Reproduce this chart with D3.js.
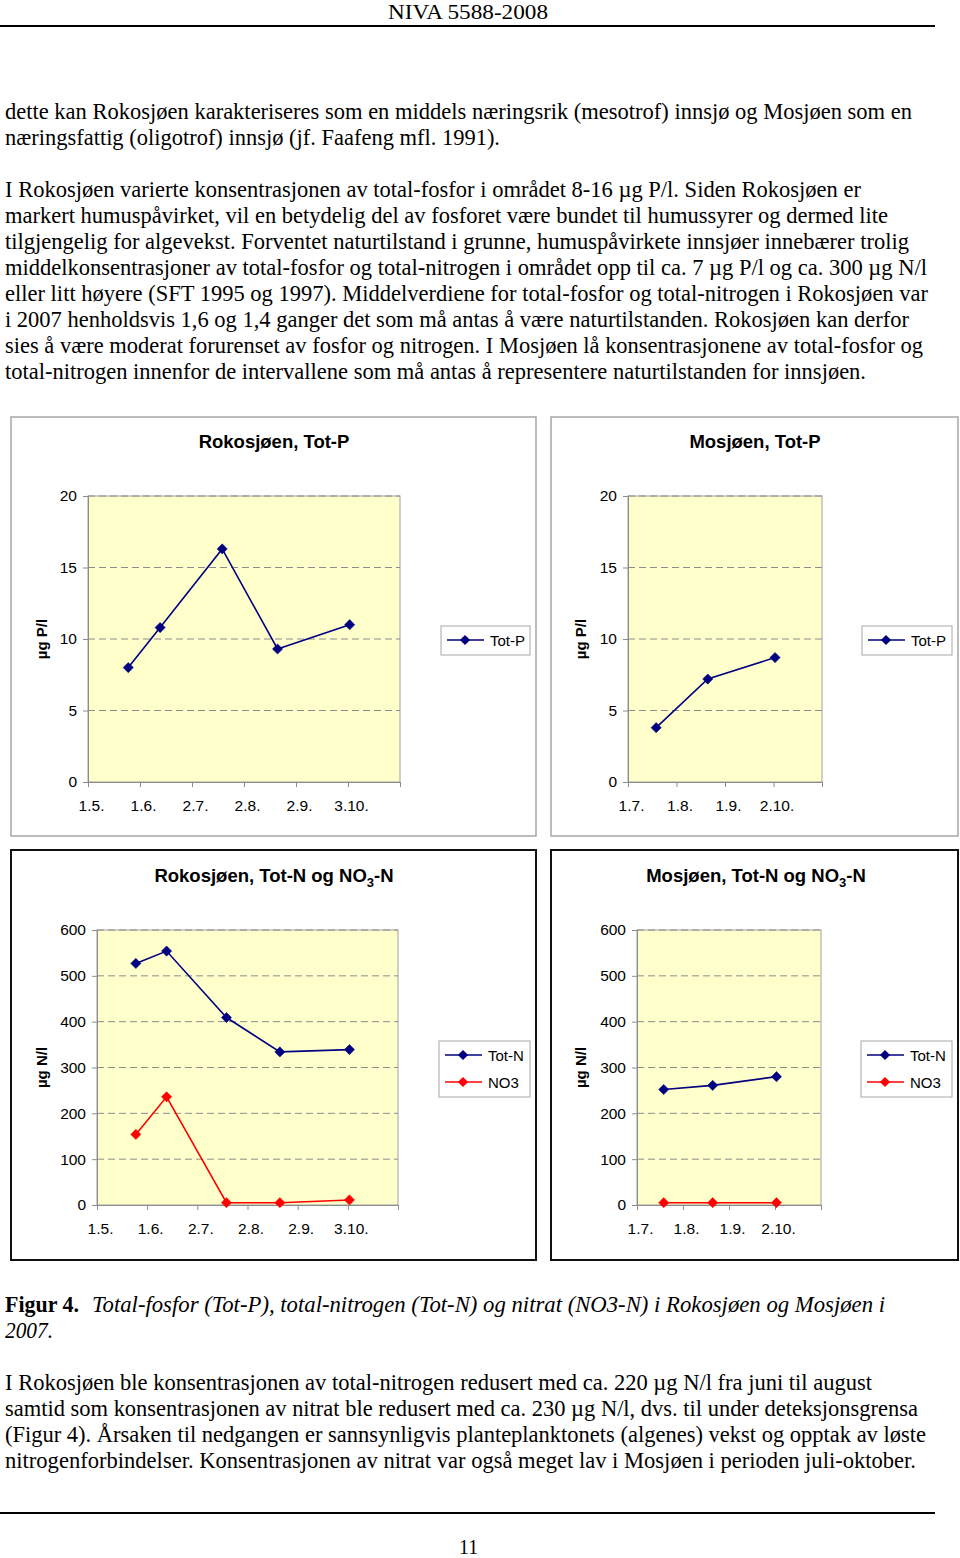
<!DOCTYPE html>
<html>
<head>
<meta charset="utf-8">
<script src="https://cdn.jsdelivr.net/npm/d3@7"></script>
<style>
  html, body { margin: 0; padding: 0; background: #fff; }
  svg { display: block; }
</style>
</head>
<body>
<svg id="page" width="960" height="1558"></svg>
<script>
// ---------------- DATA ----------------
const rokDates = ["2007-05-25", "2007-06-13", "2007-07-20", "2007-08-22", "2007-10-04"];
const rokTotP  = [8.0, 10.8, 16.3, 9.3, 11.0];
const rokTotN  = [527, 554, 409, 334, 339];
const rokNO3   = [154, 236, 5, 5, 11];

const mosDates = ["2007-07-19", "2007-08-21", "2007-10-03"];
const mosTotP  = [3.8, 7.2, 8.7];
const mosTotN  = [252, 261, 280];
const mosNO3   = [5, 5, 5];

const rokXTicks = ["2007-05-01", "2007-06-01", "2007-07-02", "2007-08-02", "2007-09-02", "2007-10-03"];
const rokXEnd   = "2007-11-03";
const mosXTicks = ["2007-07-01", "2007-08-01", "2007-09-01", "2007-10-02"];
const mosXEnd   = "2007-11-02";

const pTicks = [0, 5, 10, 15, 20];
const nTicks = [0, 100, 200, 300, 400, 500, 600];

const seriesNames = ["Tot-P", "Tot-N", "NO3"];

const headerText = "NIVA 5588-2008";
const pageNumber = "11";

const bodyLines1 = [
  "dette kan Rokosjøen karakteriseres som en middels næringsrik (mesotrof) innsjø og Mosjøen som en",
  "næringsfattig (oligotrof) innsjø (jf. Faafeng mfl. 1991)."
];
const bodyLines2 = [
  "I Rokosjøen varierte konsentrasjonen av total-fosfor i området 8-16 µg P/l. Siden Rokosjøen er",
  "markert humuspåvirket, vil en betydelig del av fosforet være bundet til humussyrer og dermed lite",
  "tilgjengelig for algevekst. Forventet naturtilstand i grunne, humuspåvirkete innsjøer innebærer trolig",
  "middelkonsentrasjoner av total-fosfor og total-nitrogen i området opp til ca. 7 µg P/l og ca. 300 µg N/l",
  "eller litt høyere (SFT 1995 og 1997). Middelverdiene for total-fosfor og total-nitrogen i Rokosjøen var",
  "i 2007 henholdsvis 1,6 og 1,4 ganger det som må antas å være naturtilstanden. Rokosjøen kan derfor",
  "sies å være moderat forurenset av fosfor og nitrogen. I Mosjøen lå konsentrasjonene av total-fosfor og",
  "total-nitrogen innenfor de intervallene som må antas å representere naturtilstanden for innsjøen."
];
const captionBold = "Figur 4.";
const captionItalic1 = "Total-fosfor (Tot-P), total-nitrogen (Tot-N) og nitrat (NO3-N) i Rokosjøen og Mosjøen i";
const captionItalic2 = "2007.";
const bodyLines3 = [
  "I Rokosjøen ble konsentrasjonen av total-nitrogen redusert med ca. 220 µg N/l fra juni til august",
  "samtid som konsentrasjonen av nitrat ble redusert med ca. 230 µg N/l, dvs. til under deteksjonsgrensa",
  "(Figur 4). Årsaken til nedgangen er sannsynligvis planteplanktonets (algenes) vekst og opptak av løste",
  "nitrogenforbindelser. Konsentrasjonen av nitrat var også meget lav i Mosjøen i perioden juli-oktober."
];

// ---------------- LAYOUT ----------------
const svg = d3.select("#page");
const serif = "'Liberation Serif', 'Times New Roman', serif";
const sans = "'Liberation Sans', Arial, sans-serif";
const parse = d3.timeParse("%Y-%m-%d");
const fmt = d3.timeFormat("%-d.%-m.");

// header
svg.append("text").attr("x", 388).attr("y", 19).attr("font-family", serif).attr("font-size", 22)
  .attr("textLength", 160).attr("lengthAdjust", "spacingAndGlyphs").text(headerText);
svg.append("line").attr("x1", 0).attr("x2", 935).attr("y1", 26).attr("y2", 26).attr("stroke", "#000").attr("stroke-width", 2);
svg.append("line").attr("x1", 0).attr("x2", 935).attr("y1", 1513).attr("y2", 1513).attr("stroke", "#000").attr("stroke-width", 2);
svg.append("text").attr("x", 459).attr("y", 1554).attr("font-family", serif).attr("font-size", 21)
  .attr("textLength", 19).attr("lengthAdjust", "spacingAndGlyphs").text(pageNumber);

function textLine(str, x, y, right, opts = {}) {
  svg.append("text").attr("x", x).attr("y", y)
    .attr("font-family", serif).attr("font-size", opts.size || 22.5)
    .attr("font-weight", opts.weight || "normal")
    .attr("font-style", opts.style || "normal")
    .attr("textLength", right - x).attr("lengthAdjust", "spacingAndGlyphs")
    .text(str);
}
const r1 = [912, 500];
bodyLines1.forEach((s, i) => textLine(s, 5, 119 + i * 26, r1[i]));
const r2 = [861, 888, 909, 927, 928, 909, 923, 866];
bodyLines2.forEach((s, i) => textLine(s, 5, 197 + i * 26, r2[i]));
textLine(captionBold, 5, 1312, 79, { weight: "bold" });
textLine(captionItalic1, 92, 1312, 885, { style: "italic" });
textLine(captionItalic2, 5, 1338, 53, { style: "italic" });
const r3 = [872, 918, 926, 916];
bodyLines3.forEach((s, i) => textLine(s, 5, 1390 + i * 26, r3[i]));

// ---------------- CHARTS ----------------
const diamond = d3.symbol(d3.symbolSquare, 52);
const colors = { "Tot-P": "#000080", "Tot-N": "#000080", "NO3": "#ff0000" };

function chart(cfg) {
  const g = svg.append("g");
  g.append("rect").attr("x", cfg.box[0]).attr("y", cfg.box[1])
    .attr("width", cfg.box[2] - cfg.box[0]).attr("height", cfg.box[3] - cfg.box[1])
    .attr("fill", "#fff").attr("stroke", cfg.boxColor).attr("stroke-width", cfg.boxWidth);

  const [L, T, R, B] = cfg.plot;
  const x = d3.scaleTime().domain([parse(cfg.xTicks[0]), parse(cfg.xEnd)]).range([L, R]);
  const y = d3.scaleLinear().domain([0, d3.max(cfg.yTicks)]).range([B, T]);

  g.append("rect").attr("x", L).attr("y", T).attr("width", R - L).attr("height", B - T)
    .attr("fill", "#ffffcc").attr("stroke", "#a0a0a0").attr("stroke-width", 1);

  g.append("g").selectAll("line").data(cfg.yTicks.filter(v => v > 0)).join("line")
    .attr("x1", L).attr("x2", R).attr("y1", d => y(d)).attr("y2", d => y(d))
    .attr("stroke", "#8c8c8c").attr("stroke-width", 1).attr("stroke-dasharray", "7,4");

  const ya = g.append("g").attr("transform", `translate(${L},0)`)
    .call(d3.axisLeft(y).tickValues(cfg.yTicks).tickSize(5).tickPadding(6));
  ya.select(".domain").attr("stroke", "#8c8c8c");
  ya.selectAll(".tick line").attr("stroke", "#8c8c8c");
  ya.selectAll("text").attr("font-family", sans).attr("font-size", 15.5).attr("fill", "#000");

  const xa = g.append("g").attr("transform", `translate(0,${B})`)
    .call(d3.axisBottom(x).tickValues(cfg.xTicks.map(parse).concat([parse(cfg.xEnd)])).tickFormat(d => (+d === +parse(cfg.xEnd) ? "" : fmt(d))).tickSize(5).tickPadding(13));
  xa.select(".domain").attr("stroke", "#8c8c8c");
  xa.selectAll(".tick line").attr("stroke", "#8c8c8c");
  xa.selectAll("text").attr("font-family", sans).attr("font-size", 15.5).attr("fill", "#000").attr("dx", 3);

  const tt = g.append("text").attr("x", cfg.titleX).attr("y", cfg.titleY).attr("text-anchor", "middle")
    .attr("font-family", sans).attr("font-weight", "bold").attr("font-size", 18.5);
  tt.append("tspan").text(cfg.title);
  if (cfg.sub) {
    tt.append("tspan").attr("font-size", 13).attr("dy", 5).text("3");
    tt.append("tspan").attr("dy", -5).text("-N");
  }

  g.append("text").attr("transform", `translate(${cfg.yTitleX},${(T + B) / 2}) rotate(-90)`)
    .attr("text-anchor", "middle").attr("font-family", sans).attr("font-weight", "bold").attr("font-size", 15)
    .text(cfg.yTitle);

  const dates = cfg.dates.map(parse);
  cfg.series.forEach(s => {
    const pts = s.values.map((v, i) => [x(dates[i]), y(v)]);
    g.append("path").attr("d", d3.line()(pts)).attr("fill", "none")
      .attr("stroke", colors[s.name]).attr("stroke-width", 1.6);
    g.append("g").selectAll("path").data(pts).join("path")
      .attr("d", diamond).attr("transform", d => `translate(${d[0]},${d[1]}) rotate(45)`)
      .attr("fill", colors[s.name]).attr("stroke", colors[s.name]).attr("stroke-width", 0.5);
  });

  const lg = cfg.legend;
  g.append("rect").attr("x", lg[0]).attr("y", lg[1]).attr("width", lg[2] - lg[0]).attr("height", lg[3] - lg[1])
    .attr("fill", "#fff").attr("stroke", "#a8a8a8").attr("stroke-width", 1);
  cfg.series.forEach((s, i) => {
    const cy = lg[1] + 14 + i * 27;
    g.append("line").attr("x1", lg[0] + 6).attr("x2", lg[0] + 43).attr("y1", cy).attr("y2", cy)
      .attr("stroke", colors[s.name]).attr("stroke-width", 1.6);
    g.append("path").attr("d", diamond).attr("transform", `translate(${lg[0] + 24},${cy}) rotate(45)`)
      .attr("fill", colors[s.name]);
    g.append("text").attr("x", lg[0] + 49).attr("y", cy + 5.5).attr("font-family", sans).attr("font-size", 15)
      .text(s.name);
  });
}

chart({
  box: [11, 417, 536, 836], boxColor: "#a6a6a6", boxWidth: 1.5,
  plot: [88, 496, 400, 782],
  xTicks: rokXTicks, xEnd: rokXEnd, yTicks: pTicks,
  title: "Rokosjøen, Tot-P", titleX: 274, titleY: 448,
  yTitle: "µg P/l", yTitleX: 47,
  dates: rokDates,
  series: [{ name: seriesNames[0], values: rokTotP }],
  legend: [441, 626, 530, 655]
});
chart({
  box: [551, 417, 958, 836], boxColor: "#a6a6a6", boxWidth: 1.5,
  plot: [628, 496, 822, 782],
  xTicks: mosXTicks, xEnd: mosXEnd, yTicks: pTicks,
  title: "Mosjøen, Tot-P", titleX: 755, titleY: 448,
  yTitle: "µg P/l", yTitleX: 586,
  dates: mosDates,
  series: [{ name: seriesNames[0], values: mosTotP }],
  legend: [862, 626, 952, 655]
});
chart({
  box: [11, 850, 536, 1260], boxColor: "#111", boxWidth: 2,
  plot: [97, 930, 398, 1205],
  xTicks: rokXTicks, xEnd: rokXEnd, yTicks: nTicks,
  title: "Rokosjøen, Tot-N og NO", sub: true, titleX: 274, titleY: 882,
  yTitle: "µg N/l", yTitleX: 47,
  dates: rokDates,
  series: [{ name: seriesNames[1], values: rokTotN }, { name: seriesNames[2], values: rokNO3 }],
  legend: [439, 1041, 530, 1097]
});
chart({
  box: [551, 850, 958, 1260], boxColor: "#111", boxWidth: 2,
  plot: [637, 930, 821, 1205],
  xTicks: mosXTicks, xEnd: mosXEnd, yTicks: nTicks,
  title: "Mosjøen, Tot-N og NO", sub: true, titleX: 756, titleY: 882,
  yTitle: "µg N/l", yTitleX: 586,
  dates: mosDates,
  series: [{ name: seriesNames[1], values: mosTotN }, { name: seriesNames[2], values: mosNO3 }],
  legend: [861, 1041, 952, 1097]
});
</script>
</body>
</html>
